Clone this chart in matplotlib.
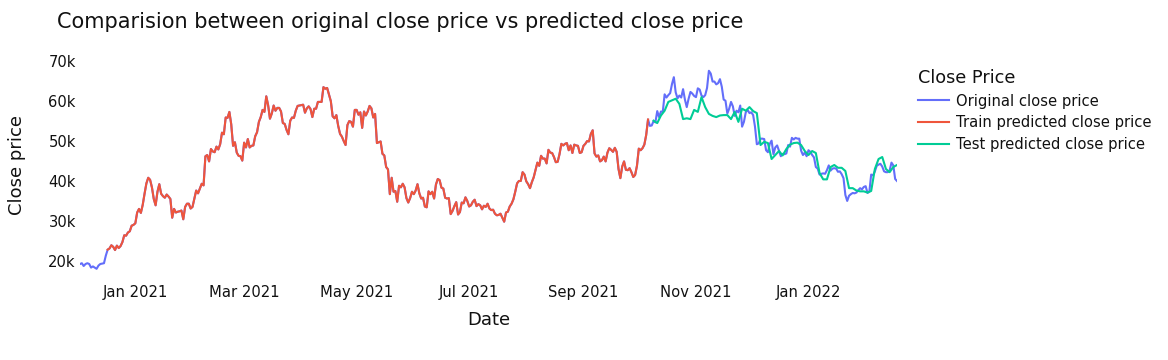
import matplotlib
matplotlib.use("Agg")
from matplotlib import pyplot as plt
import matplotlib.dates as mdates
import numpy as np
import pandas as pd

# daily close price in thousands of USD, 2020-12-02 .. 2022-02-18
close_dec20 = [19.2, 19.4, 18.7, 19.2, 19.4, 19.2, 18.3, 18.6, 18.3, 18.0, 18.8, 19.2, 19.3, 19.4, 21.3,
               22.8, 23.1, 23.9, 23.5, 22.7, 23.8, 23.2, 23.7, 24.7, 26.4, 26.3, 27.1, 27.4, 28.8, 29.0]
close_jan21 = [29.4, 32.1, 33.0, 32.0, 34.0, 36.8, 39.4, 40.8, 40.3, 38.4, 35.5, 33.9, 37.3, 39.2, 36.8, 36.2,
               35.8, 36.6, 36.1, 35.5, 30.8, 33.0, 32.1, 32.3, 32.4, 32.6, 30.4, 33.5, 34.3, 34.3, 33.1]
close_feb21 = [33.5, 35.5, 37.6, 36.9, 38.1, 39.3, 38.9, 46.2, 46.5, 44.9, 48.0, 47.4, 47.2, 48.6, 47.9, 49.2,
               52.1, 51.7, 55.9, 55.8, 57.3, 54.2, 48.8, 49.7, 47.1, 46.3, 46.2, 45.1]
close_mar21 = [49.6, 48.4, 50.5, 48.4, 48.8, 48.9, 51.2, 52.2, 54.8, 56.0, 57.8, 57.3, 61.2, 59.0, 55.6, 56.9,
               58.9, 57.6, 58.3, 58.3, 57.4, 54.5, 54.3, 52.8, 51.7, 55.1, 55.9, 55.8, 57.6, 58.8, 58.9]
close_apr21 = [59.0, 59.1, 57.1, 58.2, 58.7, 58.0, 56.0, 58.1, 58.1, 59.8, 59.8, 59.8, 63.5, 63.1, 63.3, 61.6,
               60.0, 56.2, 55.7, 56.5, 53.8, 51.8, 51.1, 50.0, 49.0, 54.0, 55.0, 54.8, 53.6, 57.8]
close_may21 = [57.8, 56.6, 57.2, 53.3, 57.4, 56.4, 57.4, 58.8, 58.2, 55.9, 56.8, 49.5, 49.7, 49.9, 46.8, 46.4,
               43.5, 42.9, 36.7, 40.8, 37.3, 37.5, 34.8, 38.8, 38.4, 39.3, 38.4, 35.7, 34.6, 35.7, 37.3]
close_jun21 = [36.7, 37.6, 39.2, 36.9, 35.6, 35.8, 33.6, 33.4, 37.4, 36.7, 37.3, 35.6, 39.1, 40.5, 40.2, 38.3,
               38.1, 35.8, 35.6, 35.7, 31.7, 32.5, 33.7, 34.7, 31.6, 32.2, 34.6, 34.4, 35.9, 35.0]
close_jul21 = [33.6, 33.9, 34.8, 35.3, 33.7, 34.2, 33.9, 32.9, 33.8, 33.5, 34.3, 33.1, 32.7, 32.8, 31.8, 31.4,
               31.5, 31.8, 30.8, 29.8, 32.1, 32.3, 33.6, 34.3, 35.4, 37.3, 39.4, 40.0, 40.0, 42.2, 41.6]
close_aug21 = [39.9, 39.2, 38.2, 39.7, 40.9, 42.8, 44.6, 43.8, 46.3, 45.6, 45.6, 44.4, 47.8, 47.1, 47.0, 46.0,
               44.7, 44.8, 46.7, 49.3, 48.9, 49.3, 49.5, 47.7, 48.9, 47.0, 49.1, 48.9, 48.8, 47.0, 47.2]
close_sep21 = [48.8, 49.3, 50.0, 49.9, 51.8, 52.7, 46.9, 46.1, 46.4, 44.9, 45.2, 46.1, 44.9, 47.1, 48.2, 47.8,
               47.3, 48.3, 47.3, 43.0, 40.7, 43.6, 44.9, 42.8, 42.7, 43.2, 42.2, 41.0, 41.5, 43.8]
close_oct21 = [48.1, 47.7, 48.2, 49.1, 51.5, 55.4, 53.8, 53.9, 55.0, 54.7, 57.5, 56.0, 57.4, 57.3, 61.7, 60.9,
               61.5, 62.0, 64.3, 66.0, 62.2, 60.7, 61.4, 60.9, 63.0, 60.4, 58.5, 60.6, 62.3, 61.9, 61.3]
close_nov21 = [61.0, 63.2, 62.9, 61.4, 61.0, 61.5, 63.3, 67.6, 66.9, 64.9, 64.9, 64.2, 64.5, 65.5, 63.6, 60.4,
               60.1, 56.9, 58.1, 59.8, 58.7, 56.3, 57.6, 57.2, 58.9, 53.6, 54.8, 57.2, 57.8, 57.0]
close_dec21 = [57.2, 56.5, 53.6, 49.2, 49.4, 50.6, 50.6, 50.5, 47.7, 47.2, 49.3, 50.1, 46.7, 48.4, 48.9, 47.6,
               46.2, 46.8, 46.7, 46.9, 49.0, 48.6, 50.8, 50.4, 50.8, 50.6, 50.6, 47.6, 46.5, 47.1, 46.2]
close_jan22 = [47.7, 47.3, 46.5, 45.9, 43.5, 43.1, 41.6, 41.8, 41.9, 41.8, 42.7, 43.9, 42.6, 43.1, 43.2, 43.1,
               42.3, 42.4, 41.7, 40.7, 36.5, 35.0, 36.3, 36.7, 37.0, 36.9, 37.1, 37.7, 38.2, 37.9, 38.5]
close_feb22 = [38.7, 37.0, 37.3, 41.6, 41.4, 42.4, 43.8, 44.1, 44.3, 43.6, 42.4, 42.2, 42.2, 42.6, 44.6, 43.9,
               40.5, 40.0]

# test predictions read every second day from 2021-10-09
test_pred = [55.1, 54.5, 56.4, 57.6, 59.8, 60.2, 60.6, 59.3, 55.5, 55.7,
             55.5, 57.8, 57.3, 61.0, 58.5, 56.8, 56.3, 56.0, 56.4, 56.5,
             56.5, 55.5, 57.3, 54.8, 58.1, 57.6, 58.5, 57.5, 57.0, 49.0,
             49.8, 49.5, 45.5, 46.5, 47.5, 46.4, 48.0, 49.1, 49.5, 49.6,
             49.0, 47.5, 46.5, 47.5, 47.0, 42.0, 40.4, 40.4, 43.5, 44.0,
             43.3, 43.3, 42.5, 38.2, 38.2, 37.6, 37.4, 37.4, 37.1, 37.5,
             43.0, 45.5, 46.0, 43.0, 42.2, 43.5, 44.0]

close = (close_dec20 + close_jan21 + close_feb21 + close_mar21 + close_apr21 + close_may21
         + close_jun21 + close_jul21 + close_aug21 + close_sep21 + close_oct21 + close_nov21
         + close_dec21 + close_jan22 + close_feb22)
dates = pd.date_range("2020-12-02", periods=len(close), freq="D")
orig = pd.Series(close, index=dates)

# train predictions sit on top of the original series
train_pred = orig["2020-12-17":"2021-10-06"]
test_dates = pd.date_range("2021-10-09", periods=len(test_pred), freq="2D")

names = ["Original close price", "Train predicted close price", "Test predicted close price"]
colors = ["#636EFA", "#EF553B", "#00CC96"]

plt.rcParams["font.family"] = ["DejaVu Sans"]
txt = "#111111"

fig = plt.figure(figsize=(11.68, 3.6), dpi=100)
ax = fig.add_axes([80 / 1168, 90 / 360, 817 / 1168, 210 / 360])

ax.plot(orig.index, orig.values, color=colors[0], lw=1.5, label=names[0])
ax.plot(train_pred.index, train_pred.values, color=colors[1], lw=1.5, label=names[1])
ax.plot(test_dates, test_pred, color=colors[2], lw=1.5, label=names[2])

ax.set_xlim(dates[0], dates[-1])
ax.set_ylim(17.7, 70.3)
ax.set_yticks([20, 30, 40, 50, 60, 70])
ax.set_yticklabels([f"{v}k" for v in [20, 30, 40, 50, 60, 70]])
ax.xaxis.set_major_locator(mdates.MonthLocator(bymonth=[1, 3, 5, 7, 9, 11]))
ax.xaxis.set_major_formatter(mdates.DateFormatter("%b %Y"))

for s in ax.spines.values():
    s.set_visible(False)
ax.tick_params(axis="both", length=0, labelsize=10.6, colors=txt)
ax.tick_params(axis="x", pad=11)
ax.tick_params(axis="y", pad=3)

fig.text(57 / 1168, 1 - 22 / 360, "Comparision between original close price vs predicted close price",
         fontsize=15.0, color=txt, ha="left", va="center")
fig.text(488.5 / 1168, 1 - 320 / 360, "Date", fontsize=13, color=txt, ha="center", va="center")
fig.text(17 / 1168, 1 - 165 / 360, "Close price", fontsize=13, color=txt, ha="center", va="center",
         rotation=90)

leg = fig.legend(loc="upper left", bbox_to_anchor=(912 / 1168, 1 - 63 / 360), frameon=False,
                 title="Close Price", fontsize=10.6, title_fontsize=12.7, handlelength=2.1,
                 handletextpad=0.5, labelspacing=0.45, alignment="left", borderaxespad=0)
for t in leg.get_texts():
    t.set_color(txt)
leg.get_title().set_color(txt)

fig.savefig("out.png", dpi=100)
